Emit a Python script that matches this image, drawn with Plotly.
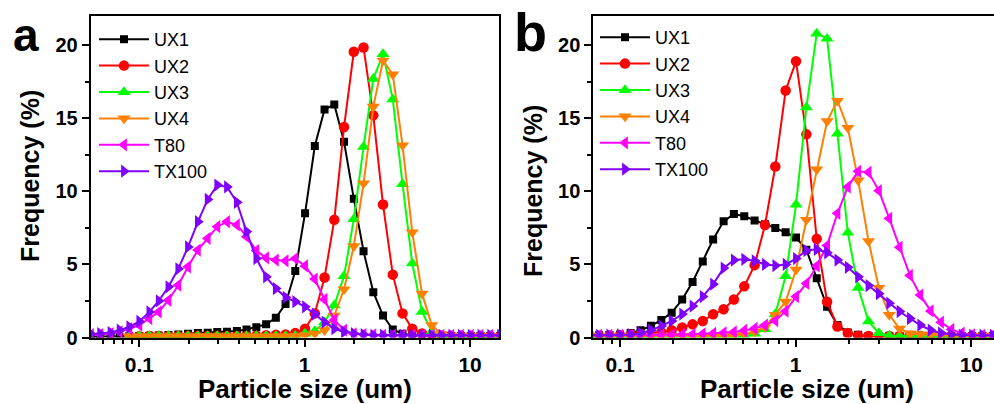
import plotly.graph_objects as go
import math

# Particle size bins (um)
sizes = [0.051, 0.058, 0.067, 0.076, 0.087, 0.100, 0.115, 0.131, 0.150, 0.172,
         0.197, 0.226, 0.259, 0.296, 0.339, 0.389, 0.445, 0.510, 0.584, 0.669,
         0.766, 0.877, 1.005, 1.151, 1.318, 1.510, 1.729, 1.981, 2.269, 2.599,
         2.976, 3.409, 3.905, 4.472, 5.122, 5.867, 6.720, 7.697, 8.816, 10.097,
         11.565, 13.246, 15.172]

series_names = ["UX1", "UX2", "UX3", "UX4", "T80", "TX100"]

# ---- Panel a ----
a_UX1 = [0.05, 0.05, 0.05, 0.05, 0.08, 0.1, 0.12, 0.14, 0.17, 0.2,
         0.25, 0.3, 0.33, 0.37, 0.4, 0.45, 0.55, 0.7, 0.9, 1.35,
         2.3, 4.55, 8.5, 13.1, 15.6, 15.95, 13.4, 9.5, 5.9, 3.1,
         1.5, 0.55, 0.25, 0.15, 0.1, 0.1, 0.1, 0.1, 0.1, 0.1,
         0.1, 0.1, 0.1]
a_UX2 = [None, None, None, None, 0.05, 0.08, 0.1, 0.1, 0.1, 0.1,
         0.1, 0.1, 0.1, 0.1, 0.1, 0.1, 0.1, 0.12, 0.15, 0.18,
         0.2, 0.3, 0.6, 1.65, 4.1, 8.05, 14.4, 19.55, 19.85, 15.2,
         9.1, 4.3, 1.65, 0.6, 0.27, 0.12, 0.1, 0.1, 0.1, 0.1,
         0.1, 0.1, 0.1]
a_UX3 = [None, None, None, None, 0.1, 0.1, 0.1, 0.1, 0.1, 0.1,
         0.1, 0.1, 0.1, 0.1, 0.1, 0.1, 0.1, 0.1, 0.1, 0.1,
         0.1, 0.12, 0.27, 0.45, 1.05, 2.2, 4.2, 8.1, 13.05, 17.7,
         19.4, 16.3, 10.5, 5.07, 1.76, 0.4, 0.15, 0.1, 0.1, 0.1,
         0.1, 0.1, 0.1]
a_UX4 = [None, None, None, None, 0.08, 0.08, 0.08, 0.08, 0.08, 0.08,
         0.08, 0.08, 0.08, 0.08, 0.08, 0.08, 0.08, 0.08, 0.08, 0.08,
         0.08, 0.1, 0.15, 0.27, 0.5, 1.5, 3.3, 6.25, 10.55, 15.8,
         18.95, 18.0, 13.15, 7.2, 3.0, 0.85, 0.23, 0.1, 0.1, 0.1,
         0.1, 0.1, 0.1]
a_T80 = [0.2, 0.2, 0.27, 0.39, 0.6, 0.85, 1.3, 1.75, 2.55, 3.58,
         4.84, 5.98, 6.78, 7.58, 7.92, 7.7, 6.9, 5.95, 5.45, 5.3,
         5.25, 5.4, 4.9, 4.0, 2.6, 1.2, 0.5, 0.25, 0.2, 0.18,
         0.15, 0.15, 0.15, 0.15, 0.15, 0.15, 0.15, 0.15, 0.15, 0.15,
         0.15, 0.15, 0.15]
a_TX100 = [0.23, 0.27, 0.34, 0.5, 0.73, 1.1, 1.75, 2.5, 3.47, 4.7,
           6.2, 7.92, 9.45, 10.43, 10.3, 9.25, 7.25, 5.4, 4.15, 3.35,
           2.75, 2.45, 2.1, 1.6, 1.05, 0.6, 0.39, 0.27, 0.2, 0.15,
           0.15, 0.15, 0.15, 0.15, 0.15, 0.15, 0.15, 0.15, 0.15, 0.15,
           0.15, 0.15, 0.15]

# ---- Panel b ----
b_UX1 = [None, None, 0.15, 0.15, 0.17, 0.2, 0.3, 0.5, 0.8, 1.2,
         1.7, 2.6, 3.8, 5.2, 6.7, 7.95, 8.45, 8.3, 8.0, 7.75,
         7.5, 7.2, 6.85, 6.0, 4.05, 2.1, 0.85, 0.35, 0.18, 0.1,
         0.1, 0.1, 0.1, 0.1, 0.1, 0.1, 0.1, 0.1, 0.1, 0.1,
         0.1, 0.1, 0.1]
b_UX2 = [None, None, 0.1, 0.12, 0.14, 0.16, 0.18, 0.2, 0.27, 0.36,
         0.5, 0.68, 0.9, 1.13, 1.59, 1.93, 2.6, 3.5, 4.95, 7.7,
         11.7, 16.9, 18.9, 13.9, 6.75, 2.45, 0.75, 0.3, 0.12, 0.1,
         0.1, 0.1, 0.1, 0.1, 0.1, 0.1, 0.1, 0.1, 0.1, 0.1,
         0.1, 0.1, 0.1]
b_UX3 = [None, None, 0.1, 0.1, 0.1, 0.1, 0.1, 0.1, 0.1, 0.1,
         0.1, 0.1, 0.1, 0.1, 0.1, 0.1, 0.1, 0.12, 0.27, 0.57,
         1.6, 4.2, 9.1, 15.75, 20.8, 20.45, 13.95, 7.17, 3.4, 1.1,
         0.3, 0.12, 0.1, 0.1, 0.1, 0.1, 0.1, 0.1, 0.1, 0.1,
         0.1, 0.1, 0.1]
b_UX4 = [None, None, 0.1, 0.1, 0.1, 0.1, 0.1, 0.1, 0.1, 0.1,
         0.1, 0.1, 0.1, 0.1, 0.1, 0.1, 0.12, 0.2, 0.4, 0.7,
         1.55, 2.45, 4.65, 8.05, 11.5, 14.8, 16.2, 14.35, 10.75, 6.6,
         3.4, 1.55, 0.6, 0.28, 0.22, 0.18, 0.15, 0.1, 0.1, 0.1,
         0.1, 0.1, 0.1]
b_T80 = [None, None, 0.15, 0.15, 0.15, 0.15, 0.15, 0.15, 0.15, 0.17,
         0.18, 0.2, 0.22, 0.25, 0.28, 0.32, 0.38, 0.48, 0.62, 0.85,
         1.15, 1.8, 2.8, 3.7, 4.9, 6.3, 8.5, 10.3, 11.37, 11.3,
         10.05, 8.15, 6.17, 4.25, 2.9, 1.82, 1.05, 0.55, 0.3, 0.18,
         0.15, 0.15, 0.15]
b_TX100 = [None, None, 0.15, 0.15, 0.16, 0.18, 0.2, 0.3, 0.5, 0.79,
           1.13, 1.6, 2.15, 2.8, 3.65, 4.75, 5.3, 5.35, 5.25, 5.0,
           4.92, 5.0, 5.4, 5.95, 6.03, 5.8, 5.3, 4.8, 4.15, 3.55,
           3.0, 2.35, 1.78, 1.3, 0.85, 0.5, 0.3, 0.2, 0.15, 0.15,
           0.15, 0.15, 0.15]

y_ticks = [0, 5, 10, 15, 20]

colors = ["#000000", "#FF0000", "#00FF00", "#FF8000", "#FF00FF", "#7F00FF"]
symbols = ["square", "circle", "triangle-up", "triangle-down", "triangle-left", "triangle-right"]
msizes = [8, 10.5, 11.5, 11.5, 11.5, 11.5]

panel_a = [a_UX1, a_UX2, a_UX3, a_UX4, a_T80, a_TX100]
panel_b = [b_UX1, b_UX2, b_UX3, b_UX4, b_T80, b_TX100]

W, H = 994, 404
FONT = "Liberation Sans"

fig = go.Figure()
for i, name in enumerate(series_names):
    fig.add_trace(go.Scatter(
        x=sizes, y=panel_a[i], name=name, mode="lines+markers",
        line=dict(color=colors[i], width=2),
        marker=dict(symbol=symbols[i], size=msizes[i], color=colors[i], line=dict(width=0)),
        xaxis="x", yaxis="y", legend="legend"))
for i, name in enumerate(series_names):
    fig.add_trace(go.Scatter(
        x=sizes, y=panel_b[i], name=name, mode="lines+markers",
        line=dict(color=colors[i], width=2),
        marker=dict(symbol=symbols[i], size=msizes[i], color=colors[i], line=dict(width=0)),
        xaxis="x2", yaxis="y2", legend="legend2"))

def px_x(p):
    return p / W

def px_y(p):
    return 1 - p / H

xtickfont = dict(family=FONT, size=21, color="black", weight="bold")
ytickfont = dict(family=FONT, size=20, color="black", weight="bold")

def xaxis_cfg(domain, rng, anchor):
    return dict(
        type="log", domain=domain, range=rng, anchor=anchor, automargin=False,
        showline=True, linecolor="black", linewidth=2, mirror=True,
        ticks="outside", ticklen=7, tickwidth=2, tickcolor="black",
        dtick=1, tickfont=xtickfont, showgrid=False, zeroline=False,
        minor=dict(ticks="outside", ticklen=4, tickwidth=2, tickcolor="black",
                   dtick="D1", showgrid=False),
    )

def yaxis_cfg(domain, anchor, mirror):
    return dict(
        domain=domain, range=[0, 22], anchor=anchor, automargin=False,
        showline=True, linecolor="black", linewidth=2, mirror=mirror,
        ticks="outside", ticklen=7, tickwidth=2, tickcolor="black",
        tickvals=y_ticks, tickfont=ytickfont, showgrid=False, zeroline=False,
        minor=dict(ticks="outside", ticklen=4, tickwidth=2, tickcolor="black",
                   dtick=2.5, showgrid=False),
    )

ydom = [px_y(337.5), px_y(16)]

fig.update_layout(
    template="none",
    width=W, height=H,
    margin=dict(l=0, r=0, t=0, b=0, pad=0, autoexpand=False),
    paper_bgcolor="white", plot_bgcolor="white",
    font=dict(family=FONT, color="black"),
    xaxis=xaxis_cfg([px_x(90.7), px_x(499)], [math.log10(0.0508), math.log10(14.96)], "y"),
    yaxis=yaxis_cfg(ydom, "x", True),
    xaxis2=xaxis_cfg([px_x(593.3), 1.0], [math.log10(0.0705), 1.129], "y2"),
    yaxis2=yaxis_cfg(ydom, "x2", False),
    legend=dict(x=px_x(94), y=px_y(21), xanchor="left", yanchor="top",
                bgcolor="rgba(0,0,0,0)", borderwidth=0,
                font=dict(family=FONT, size=18, color="black"),
                tracegroupgap=0, itemwidth=50),
    legend2=dict(x=px_x(595), y=px_y(19), xanchor="left", yanchor="top",
                 bgcolor="rgba(0,0,0,0)", borderwidth=0,
                 font=dict(family=FONT, size=18, color="black"),
                 tracegroupgap=0, itemwidth=50),
    showlegend=True,
)

title_font_x = dict(family=FONT, size=26, color="black", weight="bold")
title_font_y = dict(family=FONT, size=25, color="black", weight="bold")
annos = [
    dict(text="a", x=px_x(11), y=px_y(63), xanchor="left", yanchor="bottom",
         font=dict(family=FONT, size=46, color="black", weight="bold")),
    dict(text="b", x=px_x(512), y=px_y(64), xanchor="left", yanchor="bottom",
         font=dict(family=FONT, size=54, color="black", weight="bold")),
    dict(text="Particle size (um)", x=px_x(305), y=px_y(389), xanchor="center", yanchor="middle",
         font=title_font_x),
    dict(text="Particle size (um)", x=px_x(807), y=px_y(389), xanchor="center", yanchor="middle",
         font=title_font_x),
    dict(text="Frequency (%)", x=px_x(30), y=px_y(176), xanchor="center", yanchor="middle",
         textangle=-90, font=title_font_y),
    dict(text="Frequency (%)", x=px_x(533), y=px_y(191), xanchor="center", yanchor="middle",
         textangle=-90, font=title_font_y),
]
for an in annos:
    an.update(xref="paper", yref="paper", showarrow=False)
fig.update_layout(annotations=annos)

fig.write_html("out.html")
